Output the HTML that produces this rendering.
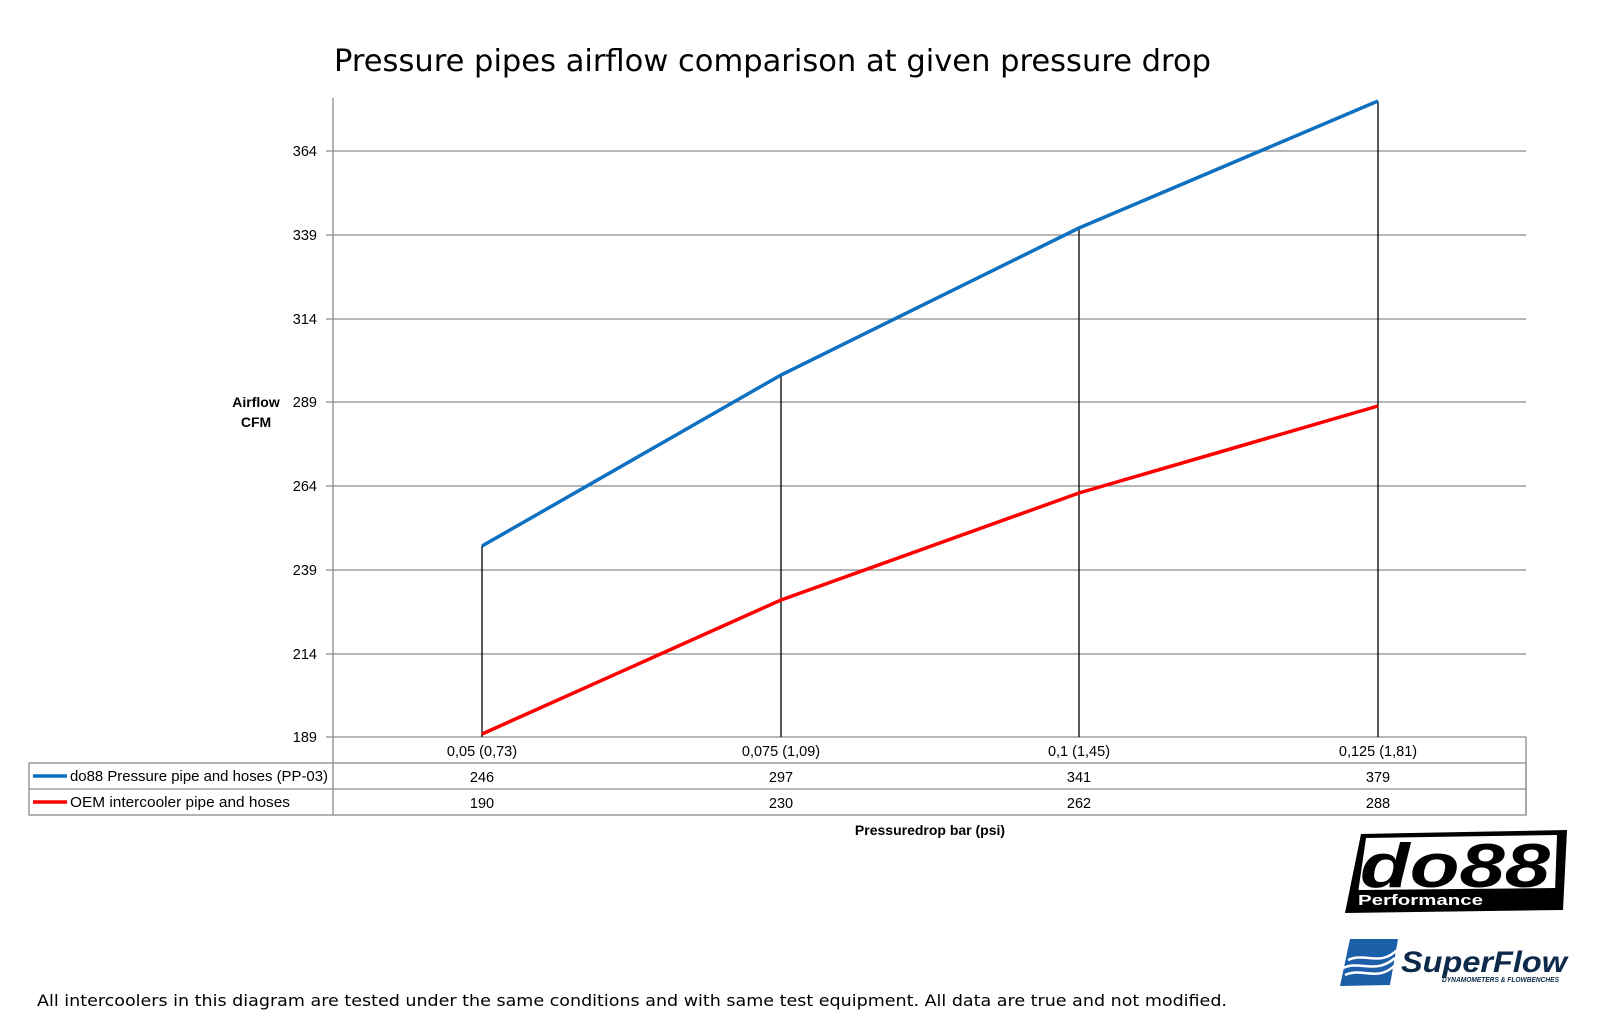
<!DOCTYPE html>
<html><head><meta charset="utf-8"><style>html,body{margin:0;padding:0;background:#fff}</style></head>
<body>
<svg width="1600" height="1028" xmlns="http://www.w3.org/2000/svg" font-family="Liberation Sans, sans-serif">
<rect width="1600" height="1028" fill="#fff"/>
<text x="334" y="71" font-family="DejaVu Sans, sans-serif" font-size="30" textLength="877" lengthAdjust="spacingAndGlyphs">Pressure pipes airflow comparison at given pressure drop</text>
<g stroke="#8c8c8c" stroke-width="1.3">
<line x1="326" y1="151" x2="1526" y2="151"/>
<line x1="326" y1="235" x2="1526" y2="235"/>
<line x1="326" y1="319" x2="1526" y2="319"/>
<line x1="326" y1="402" x2="1526" y2="402"/>
<line x1="326" y1="486" x2="1526" y2="486"/>
<line x1="326" y1="570" x2="1526" y2="570"/>
<line x1="326" y1="654" x2="1526" y2="654"/>
<line x1="326" y1="737" x2="1526" y2="737"/>
<line x1="333" y1="98" x2="333" y2="815"/>
<line x1="1526" y1="737" x2="1526" y2="815"/>
<rect x="29" y="763" width="1497" height="52" fill="none"/>
<line x1="29" y1="789" x2="1526" y2="789"/>
</g>
<g font-size="14.5" text-anchor="end">
<text x="317" y="156">364</text><text x="317" y="240">339</text><text x="317" y="324">314</text>
<text x="317" y="407">289</text><text x="317" y="491">264</text><text x="317" y="575">239</text>
<text x="317" y="659">214</text><text x="317" y="742">189</text>
</g>
<g font-size="14" font-weight="bold" text-anchor="middle">
<text x="256" y="407">Airflow</text><text x="256" y="427">CFM</text>
<text x="930" y="835">Pressuredrop bar (psi)</text>
</g>
<g stroke="#000" stroke-width="1.3">
<line x1="482" y1="546" x2="482" y2="737"/>
<line x1="781" y1="375" x2="781" y2="737"/>
<line x1="1079" y1="228" x2="1079" y2="737"/>
<line x1="1378" y1="101" x2="1378" y2="737"/>
</g>
<polyline points="482,546 781,375 1079,228 1378,101" fill="none" stroke="#0e70c0" stroke-width="3.5"/>
<polyline points="482,734 781,600 1079,493 1378,406" fill="none" stroke="#ff0000" stroke-width="3.5"/>
<g font-size="14.5" text-anchor="middle">
<text x="482" y="756">0,05 (0,73)</text><text x="781" y="756">0,075 (1,09)</text><text x="1079" y="756">0,1 (1,45)</text><text x="1378" y="756">0,125 (1,81)</text>
<text x="482" y="782">246</text><text x="781" y="782">297</text><text x="1079" y="782">341</text><text x="1378" y="782">379</text>
<text x="482" y="808">190</text><text x="781" y="808">230</text><text x="1079" y="808">262</text><text x="1378" y="808">288</text>
</g>
<line x1="33" y1="776" x2="67" y2="776" stroke="#0e70c0" stroke-width="3.5"/>
<line x1="33" y1="802" x2="67" y2="802" stroke="#ff0000" stroke-width="3.5"/>
<text x="70" y="781" font-size="15" textLength="258" lengthAdjust="spacingAndGlyphs">do88 Pressure pipe and hoses (PP-03)</text>
<text x="70" y="807" font-size="15" textLength="220" lengthAdjust="spacingAndGlyphs">OEM intercooler pipe and hoses</text>
<text x="37" y="1006" font-family="DejaVu Sans, sans-serif" font-size="16" textLength="1190" lengthAdjust="spacingAndGlyphs">All intercoolers in this diagram are tested under the same conditions and with same test equipment. All data are true and not modified.</text>
<polygon points="1361,834 1567,830 1563,910 1345,913" fill="#000"/>
<polygon points="1366,838 1557,835 1555,892 1358,893" fill="#fff"/>
<polygon points="1358,890 1557,888 1555,906 1352,908" fill="#000"/>
<text x="1455" y="887" font-size="62" font-weight="bold" font-style="italic" text-anchor="middle" fill="#000" textLength="190" lengthAdjust="spacingAndGlyphs">do88</text>
<text x="1358" y="905" font-size="15" font-weight="bold" fill="#fff" textLength="125" lengthAdjust="spacingAndGlyphs">Performance</text>
<polygon points="1350,939 1398,939 1390,985 1340,986" fill="#1a5fa8"/>
<path d="M1343,968 C1360,960 1375,975 1395,958 M1345,975 C1362,967 1377,982 1394,966 M1348,960 C1365,952 1380,967 1397,950" stroke="#fff" stroke-width="2.5" fill="none"/>
<text x="1401" y="972" font-size="30" font-weight="bold" font-style="italic" fill="#0d2a4a" textLength="166" lengthAdjust="spacingAndGlyphs">SuperFlow</text>
<text x="1442" y="982" font-size="7" font-weight="bold" font-style="italic" fill="#0d2a4a" textLength="117" lengthAdjust="spacingAndGlyphs">DYNAMOMETERS &amp; FLOWBENCHES</text>
</svg>
</body></html>
